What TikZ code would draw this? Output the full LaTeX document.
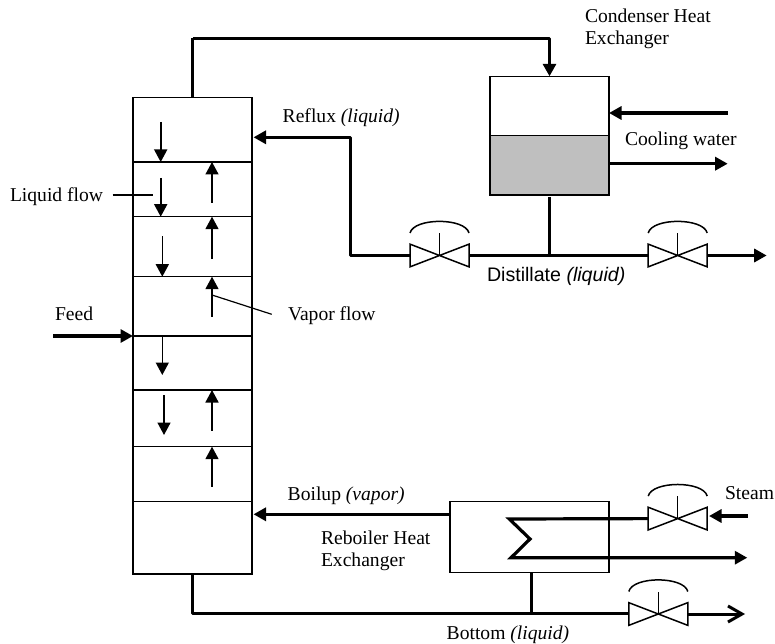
\documentclass[tikz,border=0pt]{standalone}
\usepackage{fontspec}
\setmainfont{Liberation Serif}
\newfontfamily\arialfam{Liberation Sans}
\usetikzlibrary{arrows.meta,calc}
\tikzset{
  boxnode/.style={draw=black,line width=1.5pt,inner sep=0pt,outer sep=0pt},
  stage/.style={boxnode,minimum width=119pt},
  vessel/.style={boxnode,minimum width=119pt,minimum height=59.4pt},
  anchorpt/.style={inner sep=0pt,outer sep=0pt,minimum width=59pt,minimum height=22.7pt},
  pipe/.style={line width=3.2pt,line join=bevel},
  pipearrow/.style={pipe,-{Triangle[length=12.5pt,width=13pt]}},
  flow/.style={line width=1.6pt,-{Triangle[length=12.5pt,width=13pt]}},
  leader/.style={line width=1.2pt},
  thinline/.style={line width=1.5pt},
  lab/.style={anchor=base west,inner sep=0pt,outer sep=0pt,font=\fontsize{19.6}{22}\selectfont},
}
\newcommand{\valveat}[3]{%
  \node[anchorpt] (#1) at (#2,#3) {};
  \draw[thinline,line join=miter] (#1.north west) -- (#1.south east) -- (#1.north east) -- (#1.south west) -- cycle;
  \draw[thinline] (#1.center) -- ++(0,-22.5) coordinate (#1stem);
  \draw[thinline] ($(#1stem)+(-29.5,0)$) .. controls +(4,-15.5) and +(-4,-15.5) .. ($(#1stem)+(29.5,0)$);
}
\begin{document}
\begin{tikzpicture}[x=1pt,y=-1pt]
\useasboundingbox (0,0) rectangle (775,644);
% column stages
\node[stage,minimum height=64.3pt] (s1) at (192.5,129.85) {};
\node[stage,minimum height=54.7pt] (s2) at (192.5,189.35) {};
\node[stage,minimum height=60pt] (s3) at (192.5,246.7) {};
\node[stage,minimum height=59.3pt] (s4) at (192.5,306.35) {};
\node[stage,minimum height=54pt] (s5) at (192.5,363) {};
\node[stage,minimum height=56.7pt] (s6) at (192.5,418.35) {};
\node[stage,minimum height=54.6pt] (s7) at (192.5,474) {};
\node[stage,minimum height=72.7pt] (s8) at (192.5,537.65) {};
% condenser
\node[vessel] (condtop) at (549.5,106) {};
\node[vessel,fill=black!25] (condbot) at (549.5,165.4) {};
% reboiler
\node[boxnode,minimum width=159pt,minimum height=71pt] (reb) at (529.5,536.8) {};
% valves
\valveat{v1}{439.5}{255.5}
\valveat{v2}{677.7}{255.5}
\valveat{v3}{677.7}{518.6}
\valveat{v4}{658.3}{614}
% free ends
\coordinate (topL) at (192.5,38.3);
\coordinate (refluxIn) at (253.5,137.3);
\coordinate (refluxC) at (350.7,137.3);
\coordinate (refluxB) at (350.7,255.5);
\coordinate (cwIn) at (727.7,113);
\coordinate (cwOut) at (727.7,163.7);
\coordinate (distEnd) at (766.7,255.5);
\coordinate (feedS) at (53,336);
\coordinate (boil) at (450,514.3);
\coordinate (boilEnd) at (253.5,514.3);
\coordinate (coilA) at (509.3,519);
\coordinate (coilB) at (530,539);
\coordinate (coilC) at (511,557.7);
\coordinate (coilEnd) at (747.3,557.7);
\coordinate (steamS) at (747.7,516);
\coordinate (steamE) at (709,516);
\coordinate (botC) at (192.5,613.7);
\coordinate (botTap) at (531.3,572.3);
\coordinate (botEnd) at (745,614);
% pipes
\draw[pipe] (s1.north) -- (topL);
\draw[pipearrow] (topL) -| (condtop.north);
\draw[pipearrow] (refluxB -| v1.west) -- (refluxB) -- (refluxC) -- (refluxIn);
\draw[pipearrow] (cwIn) -- (cwIn -| condtop.east);
\draw[pipearrow] (cwOut -| condtop.east) -- (cwOut);
\draw[pipe] (v1.east) -- (v2.west);
\draw[pipe] (condbot.south) ++(0,2) -- (condbot.south |- v1.center);
\draw[pipearrow] (v2.east) -- (distEnd);
\draw[pipearrow] (feedS) -- (feedS -| s4.west);
\draw[pipearrow] (boil) -- (boilEnd);
\draw[pipearrow,line join=miter] (v3.west) -- (coilA) -- (coilB) -- (coilC) -- (coilEnd);
\draw[pipearrow] (steamS) -- (steamE);
\draw[pipe] (s8.south) -- (botC) -- (botC -| v4.west);
\draw[pipe] (botTap) -- (botTap |- botC);
\draw[line width=3pt,-{Straight Barb[length=14pt,width=16pt,line width=3pt]}] (v4.east) -- (botEnd);
% liquid flow arrows
\coordinate (l1) at (160.7,122);
\coordinate (l2) at (160.7,178);
\coordinate (l3) at (162.3,236);
\coordinate (l4) at (162.3,336);
\coordinate (l4e) at (162.3,375);
\coordinate (l5) at (164,395);
\coordinate (l5e) at (164,435);
\draw[flow] (l1) -- (l1 |- s1.south);
\draw[flow] (l2) -- (l2 |- s2.south);
\draw[flow] (l3) -- (l3 |- s3.south);
\draw[flow] (l4) -- (l4e);
\draw[flow] (l5) -- (l5e);
% vapor flow arrows
\coordinate (u1) at (212,202.7);
\coordinate (u2) at (212,259);
\coordinate (u3) at (212,316.7);
\coordinate (u4) at (212,430.7);
\coordinate (u5) at (212,486.7);
\draw[flow] (u1) -- (u1 |- s2.north);
\draw[flow] (u2) -- (u2 |- s3.north);
\draw[flow] (u3) -- (u3 |- s4.north);
\draw[flow] (u4) -- (u4 |- s6.north);
\draw[flow] (u5) -- (u5 |- s7.north);
% labels
\node[lab] (tCond1) at (585,22.7) {Condenser Heat};
\node[lab] (tCond2) at (585,45) {Exchanger};
\node[lab] (tRef) at (282.7,122.7) {Reflux \textit{(liquid)}};
\node[lab] (tCW) at (625,145.7) {Cooling water};
\node[lab] (tLiq) at (10,201.7) {Liquid flow};
\node[lab,font=\fontsize{19.6}{22}\selectfont\arialfam] (tDist) at (487,281) {Distillate \textit{(liquid)}};
\node[lab] (tVap) at (288,320.7) {Vapor flow};
\node[lab] (tFeed) at (55,320.7) {Feed};
\node[lab] (tBoil) at (287.7,500) {Boilup \textit{(vapor)}};
\node[lab] (tReb1) at (321,544) {Reboiler Heat};
\node[lab] (tReb2) at (321,566.7) {Exchanger};
\node[lab] (tSteam) at (725,499.3) {Steam};
\node[lab] (tBot) at (446.7,639.3) {Bottom \textit{(liquid)}};
% leaders
\coordinate (liqA) at (112.7,195);
\coordinate (liqB) at (152.7,195);
\coordinate (vapA) at (212,295);
\coordinate (vapB) at (271.7,314.3);
\draw[leader] (liqA) -- (liqB);
\draw[leader] (vapA) -- (vapB);
\end{tikzpicture}
\end{document}
